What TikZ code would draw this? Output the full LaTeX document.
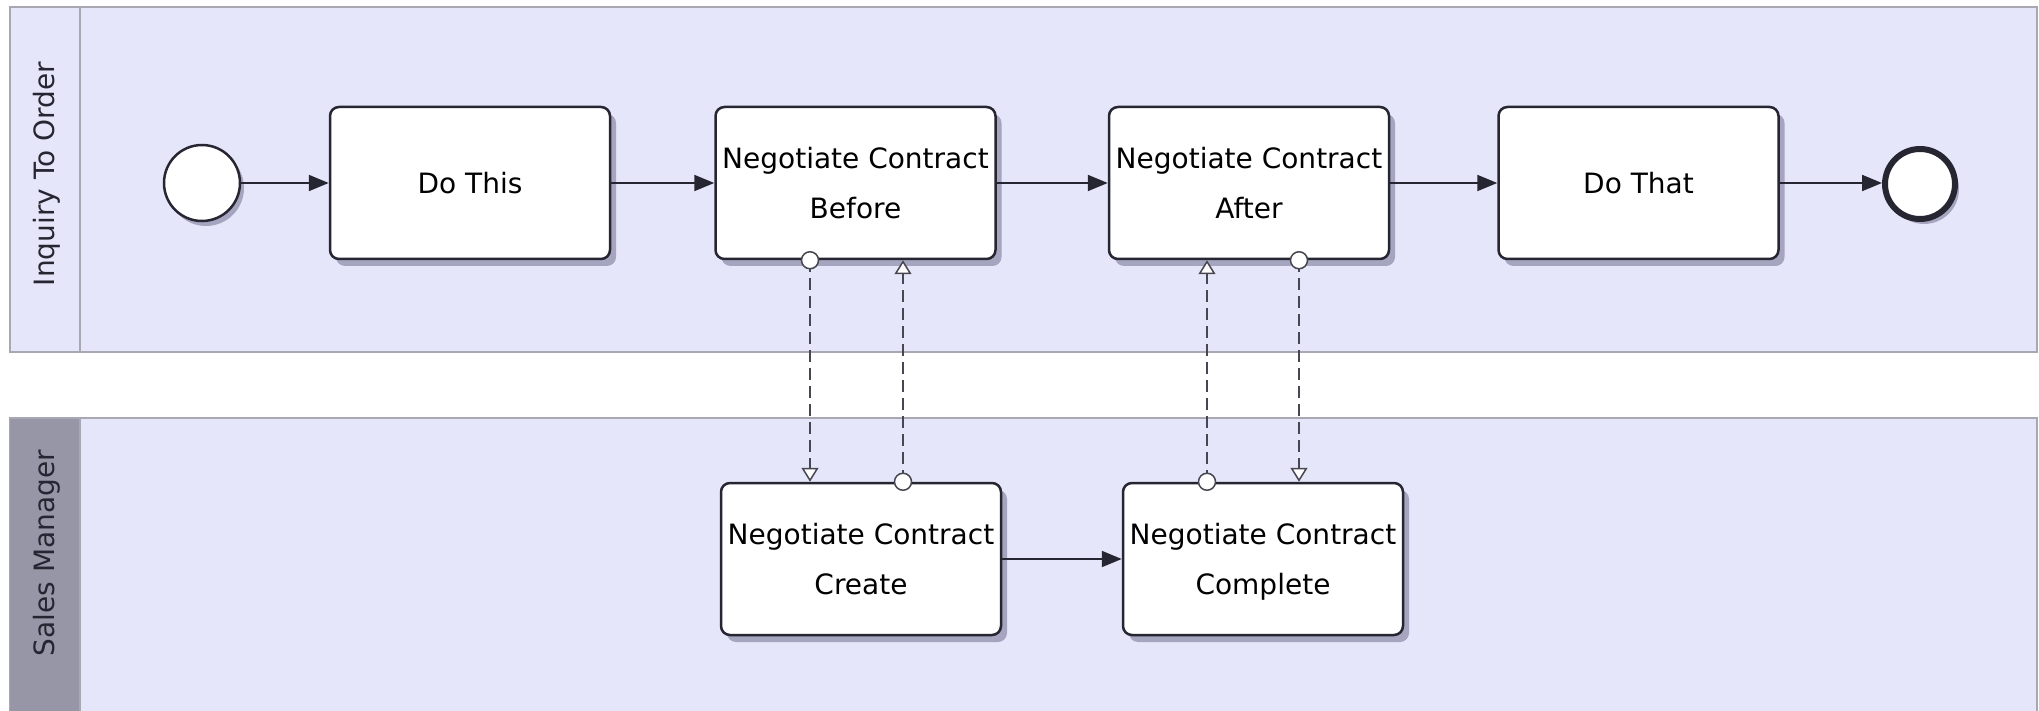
\documentclass[tikz,border=0pt]{standalone}
\usepackage{fontspec}
\setmainfont{DejaVu Sans}
\usetikzlibrary{arrows.meta,shadows}
\definecolor{lanefill}{RGB}{230,230,250}
\definecolor{laneline}{RGB}{168,168,180}
\definecolor{hdrgray}{RGB}{150,150,166}
\definecolor{ink}{RGB}{38,38,50}
\definecolor{shadowc}{RGB}{165,165,192}
\begin{document}
\begin{tikzpicture}[x=1pt,y=-1pt,
  lane/.style={fill=lanefill, draw=laneline, line width=2pt},
  lanelabel/.style={rotate=90, inner sep=0pt, text=ink, font=\fontsize{28}{34}\selectfont},
  task/.style={draw=ink, line width=2.5pt, fill=white, rounded corners=9pt,
    minimum width=280pt, minimum height=152pt, inner sep=0pt, align=center,
    font=\fontsize{28}{50}\selectfont,
    drop shadow={shadow xshift=6pt, shadow yshift=-7pt, fill=shadowc, opacity=1}},
  startev/.style={circle, draw=ink, line width=2.5pt, fill=white, minimum size=76pt, inner sep=0pt,
    drop shadow={shadow xshift=4pt, shadow yshift=-5pt, fill=shadowc, opacity=1}},
  endev/.style={circle, draw=ink, line width=6pt, fill=white, minimum size=70pt, inner sep=0pt,
    drop shadow={shadow xshift=4pt, shadow yshift=-5pt, fill=shadowc, opacity=1}},
  flow/.style={draw=ink, line width=2pt, -{Triangle[length=20pt,width=16pt]}},
  msg/.style={draw=ink!85, line width=1.5pt, dash pattern=on 12pt off 6pt,
    -{Triangle[length=14pt,width=17pt,fill=white]}},
  msgsrc/.style={circle, draw=ink!85, line width=1.5pt, fill=white, minimum size=17pt, inner sep=0pt}
]
\useasboundingbox (0,0) rectangle (2039,711);
% lanes
\draw[lane] (10,7) rectangle (2037,352);
\draw[laneline, line width=1.5pt] (80,7) -- (80,352);
\draw[lane] (10,418) rectangle (2037,720);
\fill[hdrgray] (10,419) rectangle (80,720);
\draw[laneline, line width=1.5pt] (80,419) -- (80,720);
\node[lanelabel] (lane1) at (47,174) {Inquiry To Order};
\node[lanelabel] (lane2) at (47,553) {Sales Manager};

% message flow columns
\coordinate (m1) at (810,0);
\coordinate (m2) at (903,0);
\coordinate (m3) at (1207,0);
\coordinate (m4) at (1299,0);

% nodes
\node[startev] (start) at (202,183) {};
\node[task] (dothis) at (470,183) {Do This};
\node[task] (before) at (855.5,183) {Negotiate Contract\\Before};
\node[task] (after) at (1249,183) {Negotiate Contract\\After};
\node[task] (dothat) at (1638.5,183) {Do That};
\node[endev] (end) at (1920,184) {};
\node[task] (create) at (861,559) {Negotiate Contract\\Create};
\node[task] (complete) at (1263,559) {Negotiate Contract\\Com\smash{p}lete};

% sequence flows
\draw[flow] (start) -- (dothis);
\draw[flow] (dothis) -- (before);
\draw[flow] (before) -- (after);
\draw[flow] (after) -- (dothat);
\draw[flow] (dothat.east) -- (dothat.east -| end.west);
\draw[flow] (create) -- (complete);

% message flows
\draw[msg] (m1 |- before.south) -- (m1 |- create.north);
\draw[msg] (m2 |- create.north) -- (m2 |- before.south);
\draw[msg] (m3 |- complete.north) -- (m3 |- after.south);
\draw[msg] (m4 |- after.south) -- (m4 |- complete.north);
\node[msgsrc] (s1) at (m1 |- before.south) {};
\node[msgsrc] (s2) at (m2 |- create.north) {};
\node[msgsrc] (s3) at (m3 |- complete.north) {};
\node[msgsrc] (s4) at (m4 |- after.south) {};
\end{tikzpicture}
\end{document}
